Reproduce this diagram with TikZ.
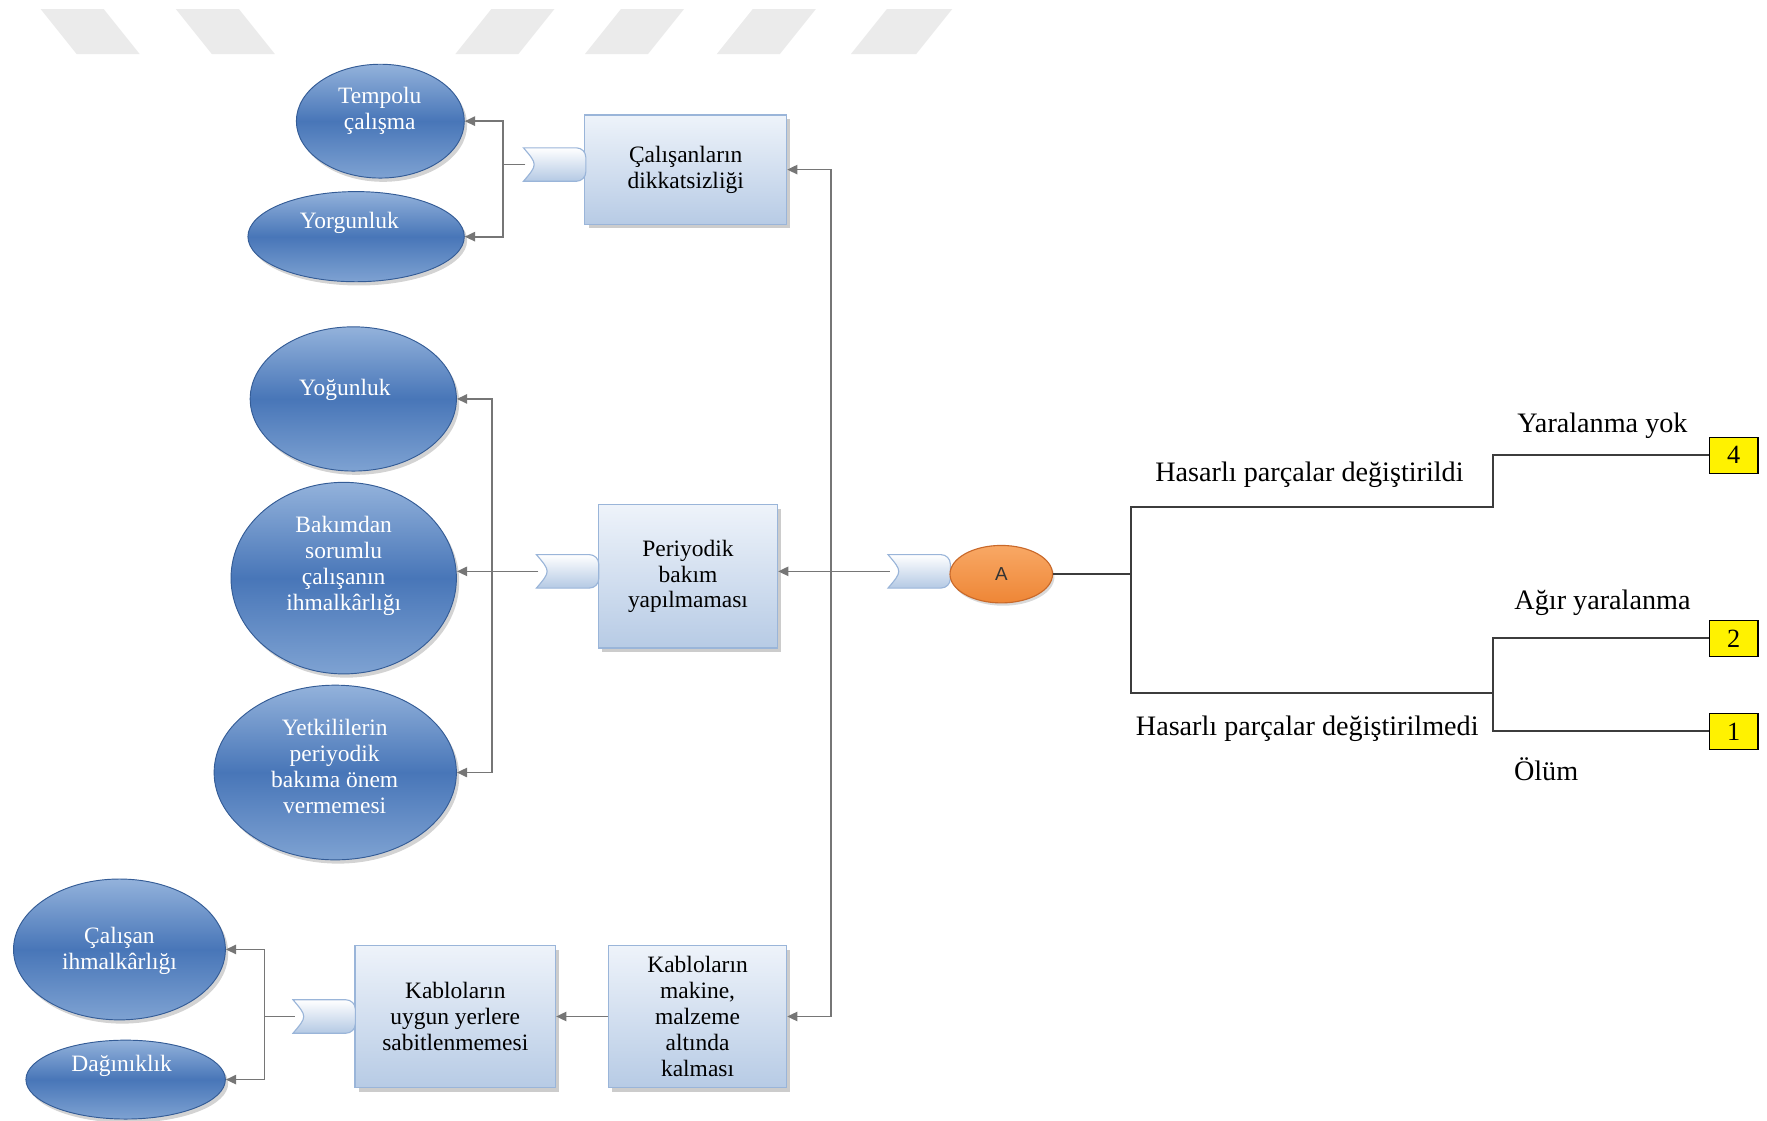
\documentclass[tikz,border=0pt]{standalone}
\usepackage{fontspec}
\setmainfont{Liberation Serif}
\newfontfamily\gatefont{Liberation Sans}
\usetikzlibrary{arrows.meta,shadows,calc,shapes.geometric}

\definecolor{stripe}{HTML}{EBEBEB}
\definecolor{elltop}{HTML}{93B2DB}
\definecolor{ellmid}{HTML}{4876B8}
\definecolor{ellbot}{HTML}{7EA2D2}
\definecolor{ellrim}{HTML}{345C96}
\definecolor{boxtop}{HTML}{EEF3FA}
\definecolor{boxbot}{HTML}{B7CBE5}
\definecolor{boxrim}{HTML}{9AB5D9}
\definecolor{tabbot}{HTML}{B4C9E4}
\definecolor{orangetop}{HTML}{F8A865}
\definecolor{orangebot}{HTML}{EE8636}
\definecolor{orangerim}{HTML}{C9692A}
\definecolor{linkgray}{HTML}{767676}
\definecolor{treegray}{HTML}{3C3C3C}

\begin{document}
\begin{tikzpicture}[x=0.6pt,y=-0.6pt,
  size/.style 2 args={minimum width=#1*0.6pt, minimum height=#2*0.6pt},
  cause/.style={ellipse, inner sep=0pt, draw=ellrim, line width=0.5pt,
    top color=elltop, bottom color=ellbot, middle color=ellmid,
    drop shadow={shadow xshift=1.5pt, shadow yshift=-2pt, opacity=0.35}},
  causetext/.style={text=white, align=center, font=\fontsize{12.5}{13.8}\selectfont, inner sep=0pt},
  event/.style={rectangle, inner sep=2pt, draw=boxrim, line width=0.6pt,
    top color=boxtop, bottom color=boxbot, align=center,
    font=\fontsize{12.5}{13.8}\selectfont,
    drop shadow={shadow xshift=2pt, shadow yshift=-2.2pt, opacity=0.4}},
  tabnode/.style={rectangle, inner sep=0pt, minimum width=31.8pt, minimum height=17.4pt},
  tabshape/.style={draw=boxrim, line width=0.6pt, top color=white, bottom color=tabbot},
  gate/.style={ellipse, inner sep=0pt, draw=orangerim, line width=0.6pt,
    top color=orangetop, bottom color=orangebot,
    font=\gatefont\fontsize{10}{12}\selectfont, text=black!80,
    drop shadow={shadow xshift=1pt, shadow yshift=-1.5pt, opacity=0.3}},
  outcome/.style={rectangle, draw=black, line width=0.6pt, fill=yellow,
    inner sep=0pt, minimum width=25.8pt, minimum height=19.2pt,
    font=\fontsize{14}{16}\selectfont},
  treelabel/.style={inner sep=0pt, font=\fontsize{15}{17}\selectfont},
  conn/.style={draw=linkgray, line width=0.9pt},
  arr/.style={conn, -{Triangle[length=5.5pt,width=5pt]}},
  tree/.style={draw=treegray, line width=1pt}
]
\useasboundingbox (0,0) rectangle (1568,994);

% faint stripes along the top edge
\fill[stripe] (36,8) -- (92,8) -- (124,48) -- (68,48) -- cycle;
\fill[stripe] (156,8) -- (212,8) -- (244,48) -- (188,48) -- cycle;
\fill[stripe] (436,8) -- (492,8) -- (460,48) -- (404,48) -- cycle;
\fill[stripe] (551,8) -- (607,8) -- (575,48) -- (519,48) -- cycle;
\fill[stripe] (668,8) -- (724,8) -- (692,48) -- (636,48) -- cycle;
\fill[stripe] (787,8) -- (845,8) -- (813,48) -- (755,48) -- cycle;

% tab shape drawn on a named placeholder node
\newcommand{\drawtab}[1]{%
  \path[tabshape] ([xshift=-1pt]#1.south west) [rounded corners=5pt] -- (#1.south east)
    -- (#1.north east) [sharp corners] -- ([xshift=-1pt]#1.north west)
    .. controls ($(#1.west)+(11,0)$) .. ([xshift=-1pt]#1.south west) -- cycle;}

% event boxes
\node[event, size={179}{97}] (b1) at (608.5,150.5) {Çalışanların\\dikkatsizliği};
\node[event, size={159}{127}] (b2) at (610.5,511.5) {Periyodik\\bakım\\yapılmaması};
\node[event, size={158}{126}] (b3) at (619,902) {Kabloların\\makine,\\malzeme\\altında\\kalması};
\node[event, size={178}{126}] (b4) at (404,902) {Kabloların\\uygun yerlere\\sabitlenmemesi};

% tabs
\node[tabnode] (t1) at (493,146) {};
\node[tabnode] (t2) at (504.5,507) {};
\node[tabnode] (tA) at (816.5,507) {};
\node[tabnode] (t4) at (288.5,902) {};
\drawtab{t1}\drawtab{t2}\drawtab{tA}\drawtab{t4}

% causes
\node[cause, size={149}{101}] (e1) at (337.5,107.5) {};
\node[cause, size={192}{80}]  (e2) at (316,210) {};
\node[cause, size={183}{128}] (e3) at (313.5,354) {};
\node[cause, size={200}{170}] (e4) at (305,513) {};
\node[cause, size={215}{155}] (e5) at (297.5,685.5) {};
\node[cause, size={188}{125}] (e6) at (106,842.5) {};
\node[cause, size={177}{70}]  (e7) at (111.5,958) {};

\node[causetext] (e1t) at (337,98) {Tempolu\\çalışma};
\node[causetext] (e2t) at (310,198) {Yorgunluk};
\node[causetext] (e3t) at (306,346) {Yoğunluk};
\node[causetext] (e4t) at (305,502) {Bakımdan\\sorumlu\\çalışanın\\ihmalkârlığı};
\node[causetext] (e5t) at (297,680) {Yetkililerin\\periyodik\\bakıma önem\\vermemesi};
\node[causetext] (e6t) at (106,844) {Çalışan\\ihmalkârlığı};
\node[causetext] (e7t) at (108,946) {Dağınıklık};

% gate
\node[gate, size={91}{51}] (A) at (888.5,509.5) {A};

% outcome boxes
\node[outcome] (o4) at (1538.5,404) {4};
\node[outcome] (o2) at (1538.5,566.5) {2};
\node[outcome] (o1) at (1538.5,649) {1};

% junctions
\coordinate (j1) at ($(t1.west)+(-20,0)$);
\coordinate (j2) at ($(t2.west)+(-41,0)$);
\coordinate (j4) at ($(t4.west)+(-27,0)$);
\coordinate (jm) at ($(tA.west)+(-52,0)$);

% cause links
\draw[conn] (t1.west) -- (j1);
\draw[arr] (j1) |- (e1.east);
\draw[arr] (j1) |- (e2.east);
\draw[conn] (t2.west) -- (j2);
\draw[arr] (j2) |- (e3.east);
\draw[arr] (j2) -- (j2 -| e4.east);
\draw[arr] (j2) |- (e5.east);
\draw[conn] (t4.west) -- (j4);
\draw[arr] (j4) |- (e6.east);
\draw[arr] (j4) |- (e7.east);

% main links
\draw[conn] (tA.west) -- (jm);
\draw[arr] (jm) -- (jm -| b2.east);
\draw[arr] (jm) |- (b1.east);
\draw[arr] (jm) |- (b3.east);
\draw[arr] (b3.west) -- (b4.east);

% event tree
\coordinate (r0) at ($(A.east)+(69,0)$);
\coordinate (ru) at (1325,450);
\coordinate (rd) at (1325,615);
\draw[tree] (A.east) -- (r0);
\draw[tree] (o4.west) -| (ru) -- (ru -| r0) -- (rd -| r0) -- (rd);
\draw[tree] (o2.west) -| (rd) |- (o1.west);

\node[treelabel] (l4) at (1422,378) {Yaralanma yok};
\node[treelabel] (lu) at (1162,421) {Hasarlı parçalar değiştirildi};
\node[treelabel] (l2) at (1422,535) {Ağır yaralanma};
\node[treelabel] (ld) at (1160,647) {Hasarlı parçalar değiştirilmedi};
\node[treelabel] (l1) at (1372,683) {Ölüm};
\end{tikzpicture}
\end{document}
